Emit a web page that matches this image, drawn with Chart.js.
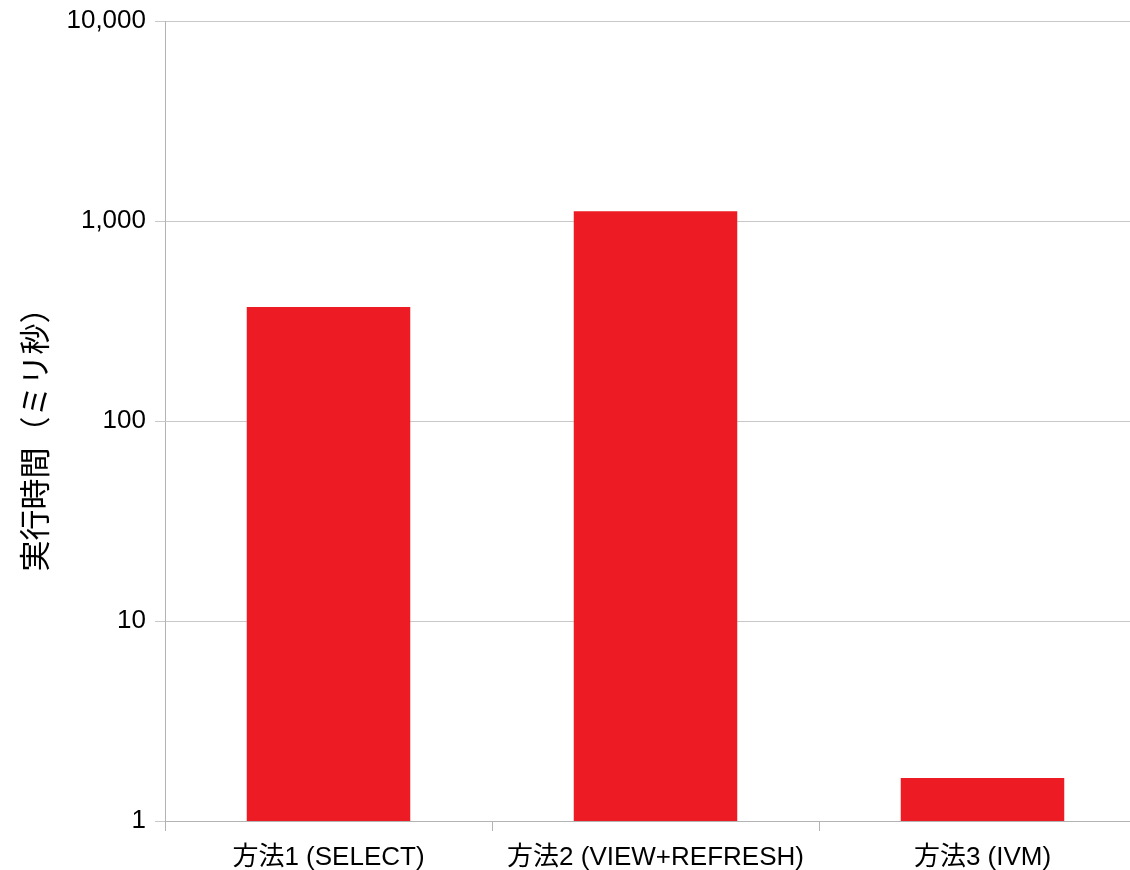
<!DOCTYPE html>
<html>
<head>
<meta charset="utf-8">
<script src="https://cdn.jsdelivr.net/npm/chart.js@4/dist/chart.umd.min.js"></script>
<style>
  html, body { margin: 0; padding: 0; overflow: hidden; background: #fff; }
  #wrap { width: 1146px; height: 870px; }
</style>
</head>
<body>
<div id="wrap"><canvas id="timeChart"></canvas></div>
<script>
const categories = ['方法1 (SELECT)', '方法2 (VIEW+REFRESH)', '方法3 (IVM)'];
const execTimes = [372, 1120, 1.64];
const yTicks = [1, 10, 100, 1000, 10000];
const yTitle = '実行時間（ミリ秒）';

const FONT = '"Liberation Sans", "Noto Sans CJK JP", sans-serif';

// y axis title, drawn by hand so it sits where the original has it
const yTitlePlugin = {
    id: 'yTitle',
    afterDraw: function (chart) {
        const c = chart.ctx;
        c.save();
        c.translate(37, 432);
        c.rotate(-Math.PI / 2);
        c.font = '31px ' + FONT;
        c.fillStyle = '#000';
        c.textAlign = 'center';
        c.textBaseline = 'middle';
        c.fillText(yTitle, 0, 0);
        c.restore();
    }
};

const ctx = document.getElementById('timeChart').getContext('2d');
const timeChart = new Chart(ctx, {
    type: 'bar',
    data: {
        labels: categories,
        datasets: [{
            data: execTimes,
            backgroundColor: '#ed1c24',
            borderWidth: 0,
            barPercentage: 0.5,
            categoryPercentage: 1.0
        }]
    },
    plugins: [yTitlePlugin],
    options: {
        responsive: true,
        maintainAspectRatio: false,
        animation: false,
        layout: { padding: { top: 21, right: 0, bottom: 0, left: 0 } },
        plugins: {
            legend: { display: false },
            tooltip: { enabled: false }
        },
        scales: {
            x: {
                offset: true,
                grid: {
                    offset: true,
                    drawOnChartArea: false,
                    color: '#b3b3b3',
                    tickLength: 10
                },
                border: { color: '#b3b3b3' },
                ticks: {
                    color: '#000',
                    padding: 11,
                    maxRotation: 0,
                    font: { family: FONT, size: 26 }
                },
                afterFit: function (scale) {
                    scale.height = 49;
                    scale.paddingLeft = 0;
                    scale.paddingRight = 0;
                }
            },
            y: {
                type: 'logarithmic',
                min: 1,
                max: 10000,
                afterBuildTicks: function (scale) {
                    scale.ticks = yTicks.map(v => ({ value: v }));
                },
                grid: {
                    color: '#c8c8c8',
                    tickLength: 10
                },
                border: { color: '#b3b3b3' },
                ticks: {
                    color: '#000',
                    padding: 9,
                    font: { family: FONT, size: 26 },
                    callback: function (value) { return Number(value).toLocaleString('en-US'); }
                },
                afterFit: function (scale) {
                    scale.width = 165;
                    scale.paddingTop = 0;
                    scale.paddingBottom = 0;
                }
            }
        }
    }
});
</script>
</body>
</html>
